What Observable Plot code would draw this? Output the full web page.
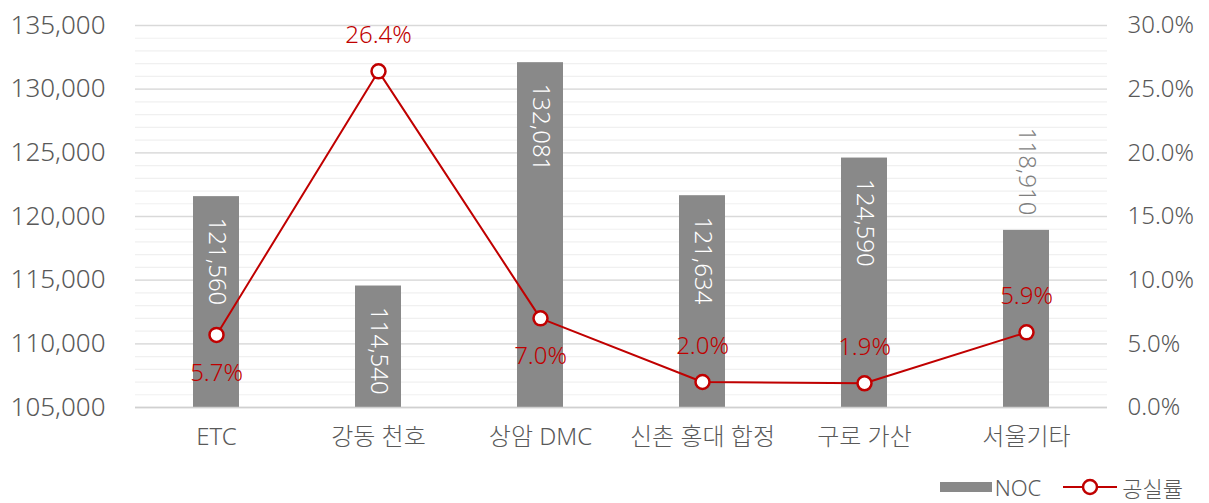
<!DOCTYPE html>
<html>
<head>
<meta charset="utf-8">
<script src="https://cdn.jsdelivr.net/npm/d3@7"></script>
<script src="https://cdn.jsdelivr.net/npm/@observablehq/plot@0.6"></script>
<style>
  html, body { margin: 0; padding: 0; background: #fff; }
  body { font-family: "Noto Sans", "Noto Sans CJK KR", sans-serif; font-weight: 300; color: #595959; }
  #legend { display: flex; justify-content: flex-end; align-items: center; height: 44px; padding-right: 26px; font-size: 22px; }
  #legend .item { display: flex; align-items: center; }
  #legend .sw { width: 52px; height: 10px; background: #898989; margin-right: 3px; }
</style>
</head>
<body>
<div id="chart"></div>
<div id="legend">
  <div class="item"><div class="sw"></div><span>NOC</span></div>
  <div class="item" style="margin-left:22px">
    <svg width="54" height="20" style="margin-right:5px"><line x1="0" y1="10" x2="54" y2="10" stroke="#c00000" stroke-width="2"/><circle cx="27" cy="10" r="7" fill="#fff" stroke="#c00000" stroke-width="2.5"/></svg>
    <span>공실률</span>
  </div>
</div>
<script>
const categories = ["ETC", "강동 천호", "상암 DMC", "신촌 홍대 합정", "구로 가산", "서울기타"];
const noc = [121560, 114540, 132081, 121634, 124590, 118910];
const vacancy = [5.7, 26.4, 7.0, 2.0, 1.9, 5.9];
const leftTicks = [105000, 110000, 115000, 120000, 125000, 130000, 135000];
const rightTicks = [0, 5, 10, 15, 20, 25, 30];

const yMin = 105000, yMax = 135000, pMax = 30;
const pctToY = p => yMin + p / pMax * (yMax - yMin);
const yToPct = v => (v - yMin) / (yMax - yMin) * pMax;

const outsideLabel = new Set(["서울기타"]);
const belowLabel = new Set(["ETC", "상암 DMC"]);

const bars = categories.map((c, i) => ({cat: c, value: noc[i]}));
const pts = categories.map((c, i) => ({cat: c, pct: vacancy[i], y: pctToY(vacancy[i])}));

const chart = Plot.plot({
  width: 1209,
  height: 465,
  marginLeft: 135,
  marginRight: 102,
  marginTop: 25,
  marginBottom: 58,
  style: {fontFamily: '"Noto Sans", "Noto Sans CJK KR", sans-serif', fontWeight: 300, color: "#595959", background: "#fff"},
  x: {domain: categories, paddingInner: 0.716, paddingOuter: 0.358, label: null},
  y: {domain: [yMin, yMax], label: null},
  marks: [
    Plot.gridY(d3.range(yMin, yMax + 1, 1000), {stroke: "#f0f0f0", strokeOpacity: 1, strokeWidth: 1.2}),
    Plot.gridY(leftTicks, {stroke: "#d9d9d9", strokeOpacity: 1, strokeWidth: 1.3}),
    Plot.barY(bars, {x: "cat", y1: yMin, y2: "value", fill: "#898989"}),
    Plot.text(bars.filter(d => !outsideLabel.has(d.cat)), {x: "cat", y: "value", text: d => d3.format(",")(d.value), rotate: 90, textAnchor: "start", dy: 21, fill: "#fff", fontSize: 24}),
    Plot.text(bars.filter(d => outsideLabel.has(d.cat)), {x: "cat", y: "value", text: d => d3.format(",")(d.value), rotate: 90, textAnchor: "end", dy: -15, fill: "#7f7f7f", fontSize: 24}),
    Plot.line(pts, {x: "cat", y: "y", stroke: "#c00000", strokeWidth: 2}),
    Plot.dot(pts, {x: "cat", y: "y", r: 7, fill: "#fff", stroke: "#c00000", strokeWidth: 2.5}),
    Plot.text(pts.filter(d => belowLabel.has(d.cat)), {x: "cat", y: "y", text: d => d.pct.toFixed(1) + "%", dy: 38, fill: "#c00000", fontSize: 24}),
    Plot.text(pts.filter(d => !belowLabel.has(d.cat)), {x: "cat", y: "y", text: d => d.pct.toFixed(1) + "%", dy: -36, fill: "#c00000", fontSize: 24}),
    Plot.axisY({anchor: "left", ticks: leftTicks, tickFormat: d3.format(","), tickSize: 0, tickPadding: 30, fontSize: 26, label: null}),
    Plot.axisY({anchor: "right", ticks: rightTicks.map(pctToY), tickFormat: d => yToPct(d).toFixed(1) + "%", tickSize: 0, tickPadding: 20, fontSize: 24, label: null}),
    Plot.axisX({tickSize: 0, tickPadding: 20, fontSize: 24, label: null}),
    Plot.ruleY([yMin], {stroke: "#d0d0d0", strokeWidth: 1.3})
  ]
});
document.getElementById("chart").appendChild(chart);
</script>
</body>
</html>
